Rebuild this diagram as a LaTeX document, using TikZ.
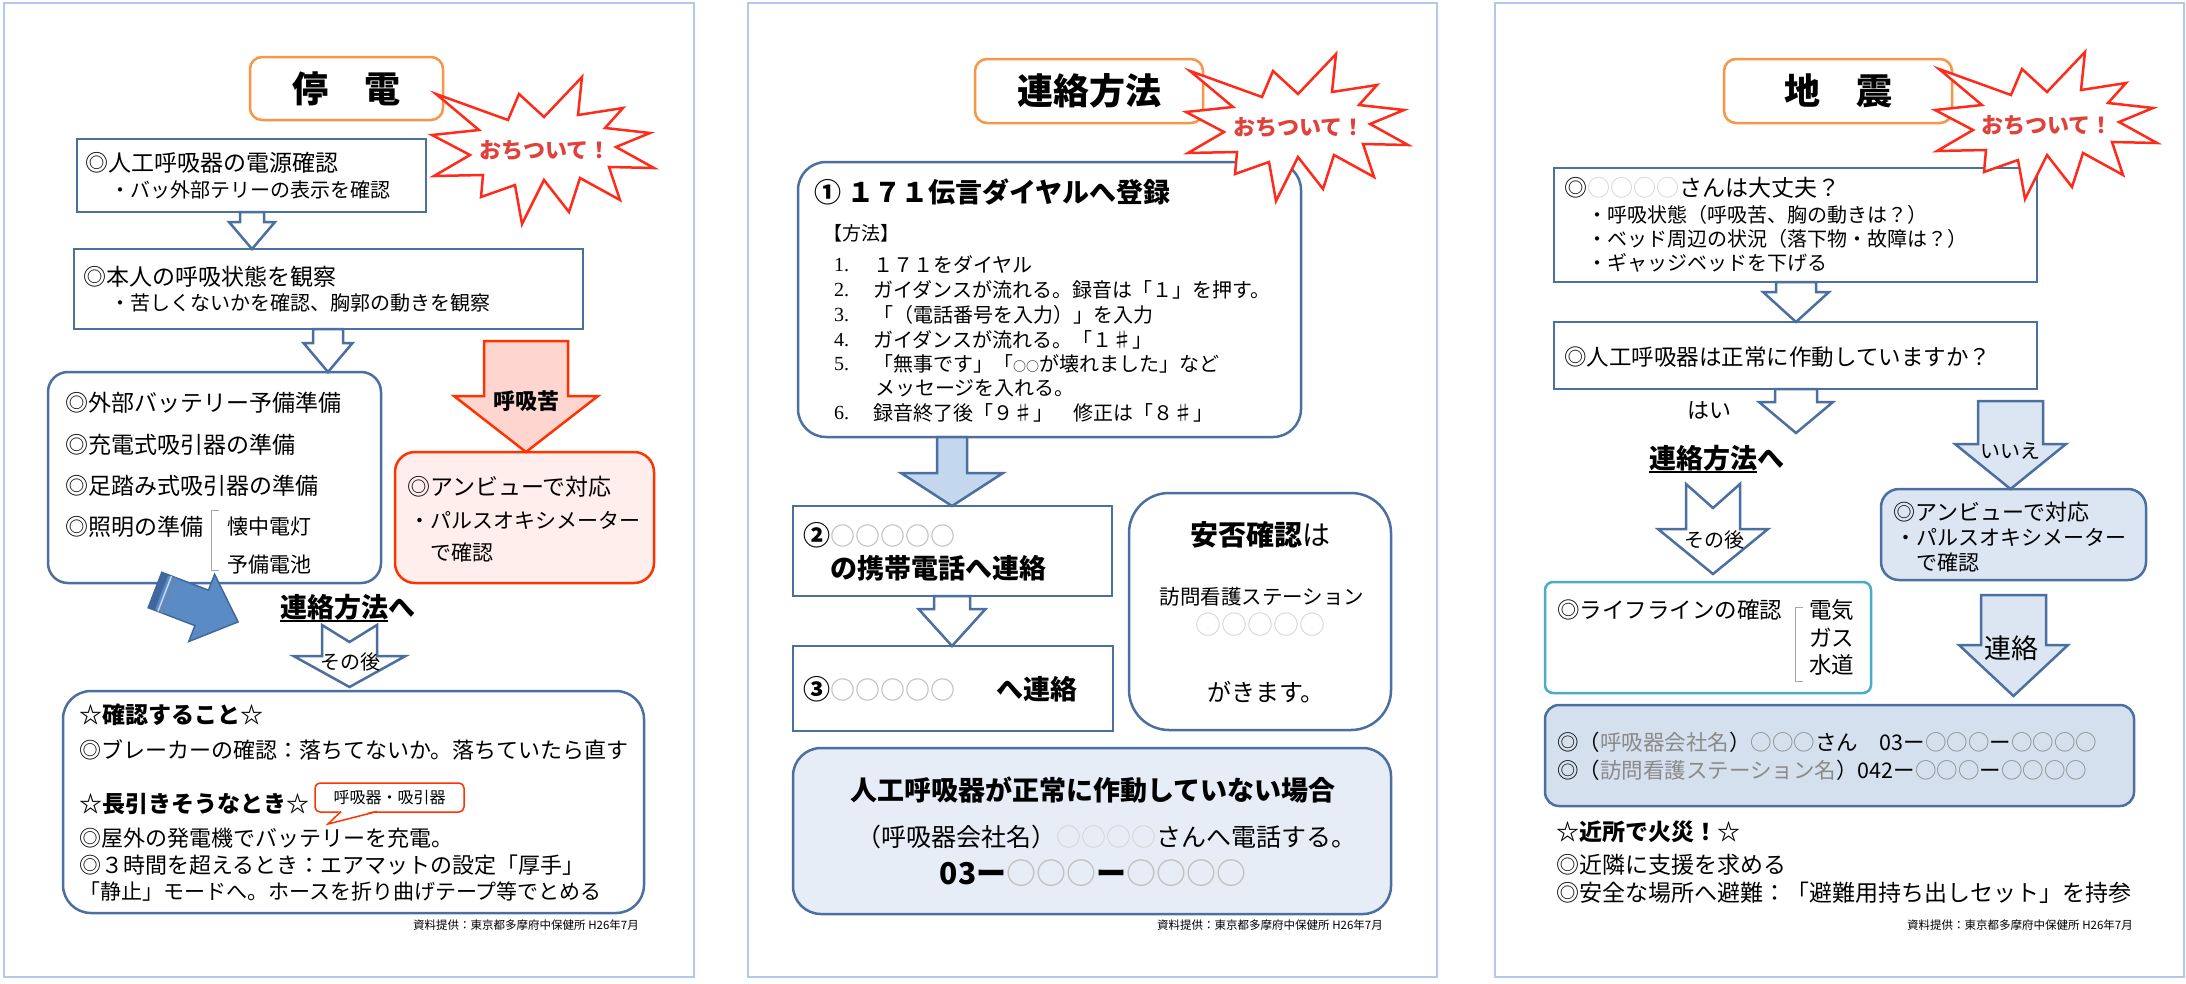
\documentclass[tikz,border=0pt]{standalone}
\usepackage{fontspec}
\setmainfont{Noto Sans CJK JP}
\newfontfamily\numfont{Liberation Serif}
\usetikzlibrary{calc}
\definecolor{bxblue}{HTML}{4A6FA0}
\definecolor{ttlorange}{HTML}{F79646}
\definecolor{starred}{HTML}{FF2A1A}
\definecolor{startext}{HTML}{E0413A}
\definecolor{redborder}{HTML}{FF3300}
\definecolor{pinkfill}{HTML}{FFEEEC}
\definecolor{redarrfill}{HTML}{FFD6CF}
\definecolor{lbfill}{HTML}{C3D7EE}
\definecolor{jfill}{HTML}{E6EDF6}
\definecolor{mfill}{HTML}{DCE6F2}
\definecolor{ofill}{HTML}{D5E0EE}
\definecolor{aqua}{HTML}{4BACC6}
\definecolor{bluearr}{HTML}{5B8BC5}
\definecolor{bluearrdk}{HTML}{41689C}
\definecolor{pageborder}{HTML}{B4C8EC}
\definecolor{gcirc}{HTML}{C2C2C2}
\definecolor{lcirc}{HTML}{D4D4D4}
\definecolor{dgrey}{HTML}{8A8A8A}
\newcommand{\fsz}[1]{\fontsize{#1}{#1}\selectfont}
\newcommand{\blkarrow}[7]{%
  \draw[#7] ({#1-#3},#2) -- ({#1+#3},#2) -- ({#1+#3},#5) -- ({#1+#4},#5) -- (#1,#6) -- ({#1-#4},#5) -- ({#1-#3},#5) -- cycle;}
\newcommand{\notcharrow}[8]{%
  \draw[#8] ({#1-#4},#2) -- (#1,#3) -- ({#1+#4},#2) -- ({#1+#4},#6) -- ({#1+#5},#6) -- (#1,#7) -- ({#1-#5},#6) -- ({#1-#4},#6) -- cycle;}
\newcommand{\burst}[2]{%
  \draw[burststyle, shift={(#1,#2)}] (-108,-56) -- (-36,-30) -- (-25,-56) -- (0,-33) -- (38,-73) -- (34,-35) -- (79,-42) -- (61,-22) -- (106,-17) -- (72,-3) -- (110,18) -- (65,17) -- (76,50) -- (36,28) -- (25,62) -- (0,30) -- (-22,74) -- (-29,35) -- (-63,47) -- (-61,25) -- (-110,26) -- (-74,5) -- (-112,-15) -- (-65,-20) -- cycle;}
\tikzset{
  pagebox/.style={draw=pageborder, line width=1.5pt, fill=white, inner sep=0pt},
  bx/.style={draw=bxblue, line width=2.5pt, fill=white, inner sep=0pt},
  ttl/.style={draw=ttlorange, line width=2.5pt, fill=white, rounded corners=12pt, inner sep=0pt},
  hol/.style={draw=bxblue, line width=2.5pt, fill=white, line join=miter},
  redarr/.style={draw=redborder, line width=2.5pt, fill=redarrfill},
  lbarr/.style={draw=bxblue, line width=2.5pt, fill=lbfill},
  pbarr/.style={draw=bxblue, line width=2.5pt, fill=mfill},
  burststyle/.style={draw=starred, line width=2.5pt, fill=white, line join=miter},
  tx/.style={anchor=west, inner sep=0pt, text=black},
  ctx/.style={anchor=center, inner sep=0pt, text=black},
  stx/.style={anchor=center, inner sep=0pt, text=startext, font=\fsz{22}\bfseries},
  foot/.style={anchor=east, inner sep=0pt, text=black, font=\fsz{11.5}},
  brk/.style={draw=gray!70, line width=1pt},
  uline/.style={draw=black, line width=2pt},
}
\begin{document}
\begin{tikzpicture}[x=1pt,y=-1pt]
\useasboundingbox (0,0) rectangle (2186,983);
\fill[white] (0,0) rectangle (2186,983);
% pages
\node[pagebox, minimum width=690pt, minimum height=974pt] (P1) at (349,490) {};
\node[pagebox, minimum width=689pt, minimum height=974pt] (P2) at (1092.5,490) {};
\node[pagebox, minimum width=689pt, minimum height=974pt] (P3) at (1839.5,490) {};

% ================= page 1 =================
\node[ttl, minimum width=193pt, minimum height=63pt] (T1) at (346.5,88.5) {};
\node[bx, minimum width=349pt, minimum height=73pt] (A) at (251.5,175.5) {};
\node[bx, minimum width=509pt, minimum height=80pt] (B) at (328.5,289) {};
\node[bx, rounded corners=20pt, minimum width=333pt, minimum height=211pt] (C) at (214.5,477.5) {};
\node[bx, draw=redborder, fill=pinkfill, rounded corners=20pt, minimum width=259pt, minimum height=131pt] (D) at (524.5,517.5) {};
\node[bx, rounded corners=28pt, minimum width=581pt, minimum height=222pt] (E) at (353.5,802) {};
\blkarrow{252}{212}{12}{23}{222}{249}{hol}
\blkarrow{328}{329}{15}{24.5}{343}{372}{hol}
\blkarrow{526}{341}{42}{72}{396}{452}{redarr}
\notcharrow{349.5}{625}{642}{27.5}{56}{656}{687}{hol}
% blue striped arrow
\draw[draw=bluearrdk, line width=1.5pt, fill=bluearr, line join=miter]
  (161.8,572.3) -- (208.5,590.2) -- (214.6,574.3) -- (238.1,621.9) -- (188.8,641.5) -- (194.9,625.6) -- (148.2,607.7) -- cycle;
\fill[bluearrdk] (161.8,572.3) -- (168.3,574.8) -- (154.7,610.2) -- (148.2,607.7) -- cycle;
\draw[draw=lbfill, line width=1.5pt] (171.5,576.0) -- (157.9,611.4);
\draw[draw=bluearrdk!80, line width=2.5pt] (175.5,577.5) -- (161.9,612.9);
\draw[brk] (219,510) -- (211,510) -- (211,570) -- (219,570);
% callout
\node[draw=redborder, line width=1.5pt, fill=white, rounded corners=5pt, minimum width=149pt, minimum height=29pt, inner sep=0pt, font=\fsz{16}] (CB) at (389.5,797.5) {呼吸器・吸引器};
\fill[white] (341,810) -- (328,824) -- (377,810) -- cycle;
\draw[draw=redborder, line width=1.5pt] (341,811.5) -- (328,824) -- (377,811.5);
\burst{544}{150}

\node[ctx, font=\fsz{36}\bfseries] (t1) at (346,89) {停　電};
\node[stx] (s1) at (545,150) {おちついて！};
\node[tx,font=\fsz{23}] (a1) at (85,163) {◎人工呼吸器の電源確認};
\node[tx,font=\fsz{20}] (a2) at (110,190) {・バッ外部テリーの表示を確認};
\node[tx,font=\fsz{23}] (b1) at (83,277) {◎本人の呼吸状態を観察};
\node[tx,font=\fsz{20}] (b2) at (110,303) {・苦しくないかを確認、胸郭の動きを観察};
\node[tx,font=\fsz{23}] (c1) at (65,403) {◎外部バッテリー予備準備};
\node[tx,font=\fsz{23}] (c2) at (65,445) {◎充電式吸引器の準備};
\node[tx,font=\fsz{23}] (c3) at (65,486) {◎足踏み式吸引器の準備};
\node[tx,font=\fsz{23}] (c4) at (65,527) {◎照明の準備};
\node[tx,font=\fsz{21}] (c5) at (227,527) {懐中電灯};
\node[tx,font=\fsz{21}] (c6) at (227,565) {予備電池};
\node[tx,font=\fsz{23}] (d1) at (407,487) {◎アンビューで対応};
\node[tx,font=\fsz{21}] (d2) at (409,520) {・パルスオキシメーター};
\node[tx,font=\fsz{21}] (d3) at (430,552) {で確認};
\node[ctx,font=\fsz{22}\bfseries] (kokyu) at (526,401) {呼吸苦};
\node[tx,font=\fsz{27}\bfseries] (ren1) at (280,607) {連絡方法へ};
\draw[uline] (280,621) -- (388,621);
\node[ctx,font=\fsz{20}] (sono1) at (350,662) {その後};
\node[tx,font=\fsz{23}\bfseries] (e1) at (79,715) {☆確認すること☆};
\node[tx,font=\fsz{22}] (e2) at (79,750) {◎ブレーカーの確認：落ちてないか。落ちていたら直す};
\node[tx,font=\fsz{23}\bfseries] (e3) at (79,804) {☆長引きそうなとき☆};
\node[tx,font=\fsz{22}] (e4) at (79,838) {◎屋外の発電機でバッテリーを充電。};
\node[tx,font=\fsz{22}] (e5) at (79,865) {◎３時間を超えるとき：エアマットの設定「厚手」};
\node[tx,font=\fsz{21}] (e6) at (79,892) {「静止」モードへ。ホースを折り曲げテープ等でとめる};
\node[foot] (foot1) at (639,925) {資料提供：東京都多摩府中保健所 H26年7月};

% ================= page 2 =================
\node[ttl, minimum width=228pt, minimum height=64pt] (T2) at (1089,91) {};
\node[bx, rounded corners=28pt, minimum width=503pt, minimum height=275pt] (F) at (1049.5,299.5) {};
\node[bx, minimum width=319pt, minimum height=90pt] (G) at (952.5,551) {};
\node[bx, minimum width=320pt, minimum height=85pt] (H) at (953,688.5) {};
\node[bx, rounded corners=40pt, minimum width=262pt, minimum height=237pt] (I) at (1260,611.5) {};
\node[bx, fill=jfill, rounded corners=28pt, minimum width=598pt, minimum height=166pt] (J) at (1092,831) {};
\blkarrow{952}{437}{15}{51}{473}{506}{lbarr}
\blkarrow{952}{596}{18}{33.5}{609}{646}{hol}
\burst{1298}{127}

\node[ctx,font=\fsz{36}\bfseries] (t2) at (1089,91) {連絡方法};
\node[stx] (s2) at (1299,127) {おちついて！};
\node[tx,font=\fsz{27}\bfseries] (f0) at (814,192) {① １７１伝言ダイヤルへ登録};
\node[tx,font=\fsz{19}] (f1) at (823,233) {【方法】};
\node[tx,font=\fsz{20}\numfont] (num1) at (834,265) {1.};
\node[tx,font=\fsz{20}\numfont] (num2) at (834,290) {2.};
\node[tx,font=\fsz{20}\numfont] (num3) at (834,315) {3.};
\node[tx,font=\fsz{20}\numfont] (num4) at (834,340) {4.};
\node[tx,font=\fsz{20}\numfont] (num5) at (834,364) {5.};
\node[tx,font=\fsz{20}\numfont] (num6) at (834,413) {6.};
\node[tx,font=\fsz{20}] (it1) at (873,265) {１７１をダイヤル};
\node[tx,font=\fsz{20}] (it2) at (873,290) {ガイダンスが流れる。録音は「１」を押す。};
\node[tx,font=\fsz{20}] (it3) at (873,315) {「（電話番号を入力）」を入力};
\node[tx,font=\fsz{20}] (it4) at (873,340) {ガイダンスが流れる。「１♯」};
\node[tx,font=\fsz{20}] (it5) at (873,364) {「無事です」「{\fsz{13}○○}が壊れました」など};
\node[tx,font=\fsz{20}] (it5b) at (875,388) {メッセージを入れる。};
\node[tx,font=\fsz{20}] (it6) at (873,413) {録音終了後「９♯」　修正は「８♯」};
\node[tx,font=\fsz{27}\bfseries] (g1) at (803,535) {②{\fsz{25}\textcolor{gcirc}{○○○○○}}};
\node[tx,font=\fsz{27}\bfseries] (g2) at (830,568) {の携帯電話へ連絡};
\node[tx,font=\fsz{27}\bfseries] (h1) at (803,689) {③{\fsz{25}\textcolor{gcirc}{○○○○○}}};
\node[tx,font=\fsz{27}\bfseries] (h2) at (996,689) {へ連絡};
\node[ctx,font=\fsz{28}] (i1) at (1260,535) {{\bfseries 安否確認}は};
\node[ctx,font=\fsz{20.5}] (i2) at (1262,597) {訪問看護ステーション};
\node[ctx,font=\fsz{26},text=lcirc] (i3) at (1260,625) {○○○○○};
\node[ctx,font=\fsz{24}] (i4) at (1266,692) {がきます。};
\node[ctx,font=\fsz{27}\bfseries] (j1) at (1093,790) {人工呼吸器が正常に作動していない場合};
\node[ctx,font=\fsz{25}] (j2) at (1106,837) {（呼吸器会社名）\textcolor{lcirc}{○○○○}さんへ電話する。};
\node[ctx,font=\fsz{30}\bfseries] (j3) at (1093,873) {03ー\textcolor{gcirc}{○○○}ー\textcolor{gcirc}{○○○○}};
\node[foot] (foot2) at (1383,925) {資料提供：東京都多摩府中保健所 H26年7月};

% ================= page 3 =================
\node[ttl, minimum width=228pt, minimum height=64pt] (T3) at (1838,91) {};
\node[bx, minimum width=483pt, minimum height=114pt] (K) at (1795.5,225) {};
\node[bx, minimum width=483pt, minimum height=67pt] (L) at (1795.5,355.5) {};
\node[bx, fill=mfill, rounded corners=18pt, minimum width=265pt, minimum height=91pt] (M) at (2013.5,534.5) {};
\node[bx, draw=aqua, rounded corners=8pt, minimum width=326pt, minimum height=111pt] (N) at (1708,637.5) {};
\node[bx, fill=ofill, rounded corners=14pt, minimum width=589pt, minimum height=101pt] (O) at (1839.5,755.5) {};
\blkarrow{1796}{282}{20}{33}{292}{322}{hol}
\blkarrow{1796}{389}{21}{37}{402}{433}{hol}
\notcharrow{1713}{484}{508}{27}{55}{529}{574}{hol}
\blkarrow{2010.5}{401}{32.5}{55.5}{444}{489}{pbarr}
\blkarrow{2013.5}{595}{32.5}{54.5}{645}{696}{pbarr}
\draw[brk] (1803,607) -- (1795,607) -- (1795,681) -- (1803,681);
\burst{2047}{125}

\node[ctx,font=\fsz{36}\bfseries] (t3) at (1838,91) {地　震};
\node[stx] (s3) at (2047,125) {おちついて！};
\node[tx,font=\fsz{23}] (k1) at (1564,188) {◎\textcolor{lcirc}{○○○○}さんは大丈夫？};
\node[tx,font=\fsz{20}] (k2) at (1587,215) {・呼吸状態（呼吸苦、胸の動きは？）};
\node[tx,font=\fsz{20}] (k3) at (1587,239) {・ベッド周辺の状況（落下物・故障は？）};
\node[tx,font=\fsz{20}] (k4) at (1587,263) {・ギャッジベッドを下げる};
\node[tx,font=\fsz{22.5}] (l1) at (1564,357) {◎人工呼吸器は正常に作動していますか？};
\node[ctx,font=\fsz{22}] (hai) at (1709,410) {はい};
\node[tx,font=\fsz{27}\bfseries] (ren3) at (1649,458) {連絡方法へ};
\draw[uline] (1649,472) -- (1757,472);
\node[ctx,font=\fsz{20}] (sono3) at (1714,540) {その後};
\node[ctx,font=\fsz{20}] (iie) at (2010,451) {いいえ};
\node[tx,font=\fsz{22}] (m1) at (1893,512) {◎アンビューで対応};
\node[tx,font=\fsz{21}] (m2) at (1895,537) {・パルスオキシメーター};
\node[tx,font=\fsz{21}] (m3) at (1916,562) {で確認};
\node[ctx,font=\fsz{27}] (renraku) at (2011,648) {連絡};
\node[tx,font=\fsz{22.5}] (nn1) at (1557,610) {◎ライフラインの確認};
\node[tx,font=\fsz{22.5}] (den) at (1809,610) {電気};
\node[tx,font=\fsz{22.5}] (gas) at (1809,638) {ガス};
\node[tx,font=\fsz{22.5}] (sui) at (1809,665) {水道};
\node[tx,font=\fsz{21.5}] (o1) at (1557,742) {◎（\textcolor{dgrey}{呼吸器会社名}）\textcolor{dgrey}{○○○}さん　03ー\textcolor{dgrey}{○○○}ー\textcolor{dgrey}{○○○○}};
\node[tx,font=\fsz{21.5}] (o2) at (1557,770) {◎（\textcolor{dgrey}{訪問看護ステーション名}）042ー\textcolor{dgrey}{○○○}ー\textcolor{dgrey}{○○○○}};
\node[tx,font=\fsz{23}\bfseries] (q1) at (1556,832) {☆近所で火災！☆};
\node[tx,font=\fsz{23}] (q2) at (1556,865) {◎近隣に支援を求める};
\node[tx,font=\fsz{23}] (q3) at (1556,893) {◎安全な場所へ避難：「避難用持ち出しセット」を持参};
\node[foot] (foot3) at (2133,925) {資料提供：東京都多摩府中保健所 H26年7月};
\end{tikzpicture}
\end{document}
